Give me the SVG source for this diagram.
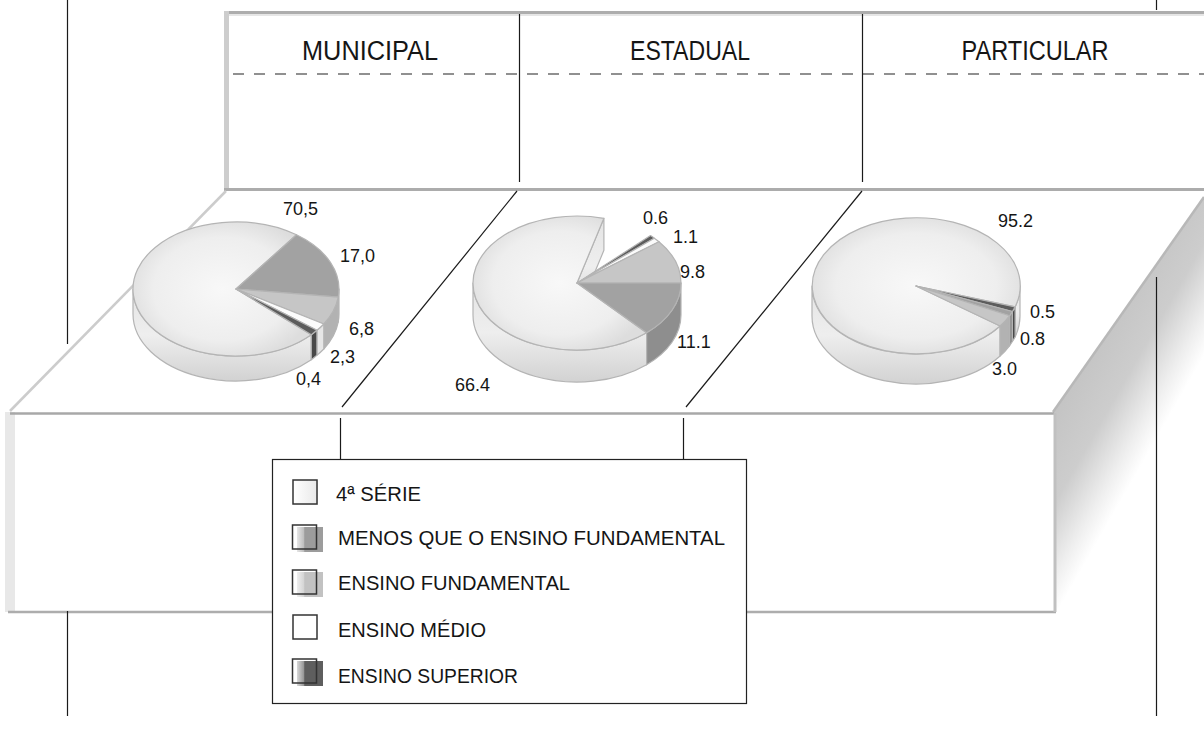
<svg xmlns="http://www.w3.org/2000/svg" width="1204" height="745" viewBox="0 0 1204 745">
<style>
.ln{stroke:#1a1a1a;stroke-width:1.2;fill:none}
.t{font-family:"Liberation Sans",Arial,sans-serif;fill:#151515}
.hdr{font-size:27px}
.lbl{font-size:18px}
.leg{font-size:20px}
.top{stroke:#b4b4b4;stroke-width:1.2;stroke-linejoin:round}
.side{stroke:#b4b4b4;stroke-width:1.2;stroke-linejoin:round}
.main{fill:url(#topG)}
.mside{fill:url(#sideG)}
.med{fill:#a2a2a2}
.medS{fill:#8e8e8e}
.lg{fill:#c6c6c6}
.lgS{fill:#b2b2b2}
.wh{fill:#fbfbfb}
.whS{fill:#e6e6e6}
.dk{fill:#5c5c5c}
.dkS{fill:#484848}
.sw{fill:none;stroke:#333;stroke-width:1.5}
</style>
<defs>
<radialGradient id="topG" cx="0.5" cy="0.5" r="0.55">
<stop offset="0" stop-color="#f8f8f8"/>
<stop offset="0.7" stop-color="#eeeeee"/>
<stop offset="1" stop-color="#dddddd"/>
</radialGradient>
<linearGradient id="sideG" x1="0" y1="0" x2="0" y2="1">
<stop offset="0" stop-color="#e4e4e4"/>
<stop offset="0.5" stop-color="#eeeeee"/>
<stop offset="1" stop-color="#d2d2d2"/>
</linearGradient>
<linearGradient id="rf" gradientUnits="userSpaceOnUse" x1="1053" y1="413" x2="1142" y2="464">
<stop offset="0" stop-color="#c4c4c4"/>
<stop offset="0.45" stop-color="#cdcdcd"/>
<stop offset="0.8" stop-color="#eeeeee"/>
<stop offset="1" stop-color="#ffffff"/>
</linearGradient>
<linearGradient id="sw1" x1="0" y1="0" x2="1" y2="0">
<stop offset="0" stop-color="#ffffff"/>
<stop offset="1" stop-color="#e8e8e8"/>
</linearGradient>
<linearGradient id="sw2" x1="0" y1="0" x2="1" y2="0">
<stop offset="0" stop-color="#e6e6e6"/>
<stop offset="0.25" stop-color="#c0c0c0"/>
<stop offset="0.3" stop-color="#9c9c9c"/>
<stop offset="1" stop-color="#9c9c9c"/>
</linearGradient>
<linearGradient id="sw3" x1="0" y1="0" x2="1" y2="0">
<stop offset="0" stop-color="#eeeeee"/>
<stop offset="0.25" stop-color="#d6d6d6"/>
<stop offset="0.3" stop-color="#c2c2c2"/>
<stop offset="1" stop-color="#c2c2c2"/>
</linearGradient>
<linearGradient id="sw5" x1="0" y1="0" x2="1" y2="0">
<stop offset="0" stop-color="#d8d8d8"/>
<stop offset="0.25" stop-color="#999999"/>
<stop offset="0.3" stop-color="#5e5e5e"/>
<stop offset="1" stop-color="#5e5e5e"/>
</linearGradient>
</defs>
<rect width="1204" height="745" fill="#ffffff"/>

<g id="side-face">
<polygon points="1053,413 1204,197 1204,440 1053,614" fill="url(#rf)"/>
<line x1="1053" y1="412" x2="1204" y2="197" stroke="#b8b8b8" stroke-width="2.5"/>
</g>

<g id="top-panel">
<rect x="226" y="13" width="978" height="176" fill="#ffffff"/>
<line x1="228" y1="12.5" x2="1204" y2="12.5" stroke="#adadad" stroke-width="3"/>
<line x1="229" y1="15" x2="1204" y2="15" stroke="#e6e6e6" stroke-width="2"/>
<rect x="224" y="11" width="5" height="179" fill="#cdcdcd"/>
<line x1="224" y1="189.5" x2="1204" y2="189.5" stroke="#acacac" stroke-width="3"/>
<line x1="233" y1="74" x2="1204" y2="74" stroke="#222" stroke-width="1.2" stroke-dasharray="11,10"/>
<text class="t hdr" x="370" y="60" text-anchor="middle" textLength="136" lengthAdjust="spacingAndGlyphs">MUNICIPAL</text>
<text class="t hdr" x="690" y="60" text-anchor="middle" textLength="120" lengthAdjust="spacingAndGlyphs">ESTADUAL</text>
<text class="t hdr" x="1035" y="60" text-anchor="middle" textLength="147" lengthAdjust="spacingAndGlyphs">PARTICULAR</text>
</g>

<g id="front-panel">
<line x1="10" y1="411" x2="226" y2="191" stroke="#cccccc" stroke-width="2.5"/>
<rect x="10" y="413" width="1044" height="199" fill="#ffffff"/>
<rect x="5" y="412" width="10" height="200" fill="#e8e8e8"/>
<line x1="10" y1="413.5" x2="1054" y2="413.5" stroke="#a8a8a8" stroke-width="2.5"/>
<line x1="8" y1="612" x2="1056" y2="612" stroke="#adadad" stroke-width="2.5"/>
<line x1="1055" y1="413" x2="1055" y2="612" stroke="#c0c0c0" stroke-width="3"/>
</g>

<g id="connectors">
<line class="ln" x1="67.5" y1="0" x2="67.5" y2="344"/>
<line class="ln" x1="67.5" y1="611" x2="67.5" y2="716"/>
<line class="ln" x1="1156.5" y1="0" x2="1156.5" y2="10"/>
<line class="ln" x1="1156.5" y1="277" x2="1156.5" y2="716"/>
<line class="ln" x1="519.5" y1="14" x2="519.5" y2="182"/>
<line class="ln" x1="862.5" y1="14" x2="862.5" y2="182"/>
<line class="ln" x1="517" y1="191" x2="342" y2="407"/>
<line class="ln" x1="862" y1="191" x2="686" y2="407"/>
<line class="ln" x1="340.5" y1="418" x2="340.5" y2="459"/>
<line class="ln" x1="683.5" y1="418" x2="683.5" y2="459"/>
</g>

<g id="pie-municipal">
<path class="side mside" d="M311.3,334.7 A103,67 0 0 1 133,289 L133,314 A103,67 0 0 0 311.3,359.7 Z"/>
<path class="side medS" d="M339,289 A103,67 0 0 1 338.2,297.2 L338.2,322.2 A103,67 0 0 0 339,314 Z"/>
<path class="side lgS" d="M338.2,297.2 A103,67 0 0 1 323.8,324 L323.8,349 A103,67 0 0 0 338.2,322.2 Z"/>
<path class="side whS" d="M323.8,324 A103,67 0 0 1 316.9,330.3 L316.9,355.3 A103,67 0 0 0 323.8,349 Z"/>
<path class="side dkS" d="M316.9,330.3 A103,67 0 0 1 311.3,334.7 L311.3,359.7 A103,67 0 0 0 316.9,355.3 Z"/>
<path class="top main" d="M236,289 L311.3,334.7 A103,67 0 1 1 296.5,234.8 Z"/>
<path class="top med" d="M236,289 L296.5,234.8 A103,67 0 0 1 338.2,297.2 Z"/>
<path class="top lg" d="M236,289 L338.2,297.2 A103,67 0 0 1 323.8,324 Z"/>
<path class="top wh" d="M236,289 L323.8,324 A103,67 0 0 1 316.9,330.3 Z"/>
<path class="top dk" d="M236,289 L316.9,330.3 A103,67 0 0 1 311.3,334.7 Z"/>
<text class="t lbl" x="283" y="215">70,5</text>
<text class="t lbl" x="340" y="262">17,0</text>
<text class="t lbl" x="349" y="335">6,8</text>
<text class="t lbl" x="330" y="363">2,3</text>
<text class="t lbl" x="296" y="385">0,4</text>
</g>

<g id="pie-estadual">
<path class="side mside" d="M646.6,332.8 A104,67 0 0 1 473,283 L473,315 A104,67 0 0 0 646.6,364.8 Z"/>
<path class="side mside" d="M577,283 L603.9,218.3 L603.9,250.3 L577,315 Z"/>
<path class="side medS" d="M681,283 A104,67 0 0 1 646.6,332.8 L646.6,364.8 A104,67 0 0 0 681,315 Z"/>
<path class="top main" d="M577,283 L646.6,332.8 A104,67 0 1 1 603.9,218.3 Z"/>
<path class="top dk" d="M577,283 L650.5,235.6 A104,67 0 0 1 654.3,238.2 Z"/>
<path class="top wh" d="M577,283 L654.3,238.2 A104,67 0 0 1 659,241.7 Z"/>
<path class="top lg" d="M577,283 L659,241.7 A104,67 0 0 1 681,283 Z"/>
<path class="top med" d="M577,283 L681,283 A104,67 0 0 1 646.6,332.8 Z"/>
<text class="t lbl" x="643" y="224">0.6</text>
<text class="t lbl" x="673" y="243">1.1</text>
<text class="t lbl" x="680" y="278">9.8</text>
<text class="t lbl" x="677" y="348">11.1</text>
<text class="t lbl" x="455" y="391">66.4</text>
</g>

<g id="pie-particular">
<path class="side mside" d="M1000.1,326 A104,68 0 0 1 812,286 L812,316 A104,68 0 0 0 1000.1,356 Z"/>
<path class="side mside" d="M1020,286 A104,68 0 0 1 1015.1,306.9 L1015.1,336.9 A104,68 0 0 0 1020,316 Z"/>
<path class="side dkS" d="M1015.1,306.9 A104,68 0 0 1 1012.4,311.5 L1012.4,341.5 A104,68 0 0 0 1015.1,336.9 Z"/>
<path class="side medS" d="M1012.4,311.5 A104,68 0 0 1 1009.5,315.8 L1009.5,345.8 A104,68 0 0 0 1012.4,341.5 Z"/>
<path class="side lgS" d="M1009.5,315.8 A104,68 0 0 1 1000.1,326 L1000.1,356 A104,68 0 0 0 1009.5,345.8 Z"/>
<path class="top main" d="M916,286 L1000.1,326 A104,68 0 1 1 1015.1,306.9 Z"/>
<path class="top dk" d="M916,286 L1015.1,306.9 A104,68 0 0 1 1012.4,311.5 Z"/>
<path class="top med" d="M916,286 L1012.4,311.5 A104,68 0 0 1 1009.5,315.8 Z"/>
<path class="top lg" d="M916,286 L1009.5,315.8 A104,68 0 0 1 1000.1,326 Z"/>
<text class="t lbl" x="998" y="227">95.2</text>
<text class="t lbl" x="1030" y="318">0.5</text>
<text class="t lbl" x="1020" y="345">0.8</text>
<text class="t lbl" x="992" y="375">3.0</text>
</g>

<g id="legend">
<rect x="272.5" y="459.5" width="474" height="244" fill="#ffffff" stroke="#222" stroke-width="1.2"/>
<g id="leg-4serie">
<rect x="293" y="480" width="25" height="25" fill="url(#sw1)"/>
<rect class="sw" x="293" y="480" width="24" height="24"/>
<text class="t leg" x="336" y="501" textLength="85" lengthAdjust="spacingAndGlyphs">4ª SÉRIE</text>
</g>
<g id="leg-menos">
<rect x="297" y="527" width="26" height="25" fill="url(#sw2)"/>
<rect class="sw" x="292.5" y="525" width="24" height="24"/>
<text class="t leg" x="338" y="545" textLength="387" lengthAdjust="spacingAndGlyphs">MENOS QUE O ENSINO FUNDAMENTAL</text>
</g>
<g id="leg-fund">
<rect x="297" y="572" width="26" height="25" fill="url(#sw3)"/>
<rect class="sw" x="292.5" y="570" width="24" height="24"/>
<text class="t leg" x="338" y="590" textLength="232" lengthAdjust="spacingAndGlyphs">ENSINO FUNDAMENTAL</text>
</g>
<g id="leg-medio">
<rect class="sw" x="293" y="615" width="24" height="24" fill="#ffffff"/>
<text class="t leg" x="338" y="637" textLength="148" lengthAdjust="spacingAndGlyphs">ENSINO MÉDIO</text>
</g>
<g id="leg-superior">
<rect x="297" y="661" width="26" height="25" fill="url(#sw5)"/>
<rect class="sw" x="292.5" y="659" width="24" height="24"/>
<text class="t leg" x="338" y="683" textLength="180" lengthAdjust="spacingAndGlyphs">ENSINO SUPERIOR</text>
</g>
</g>
</svg>
